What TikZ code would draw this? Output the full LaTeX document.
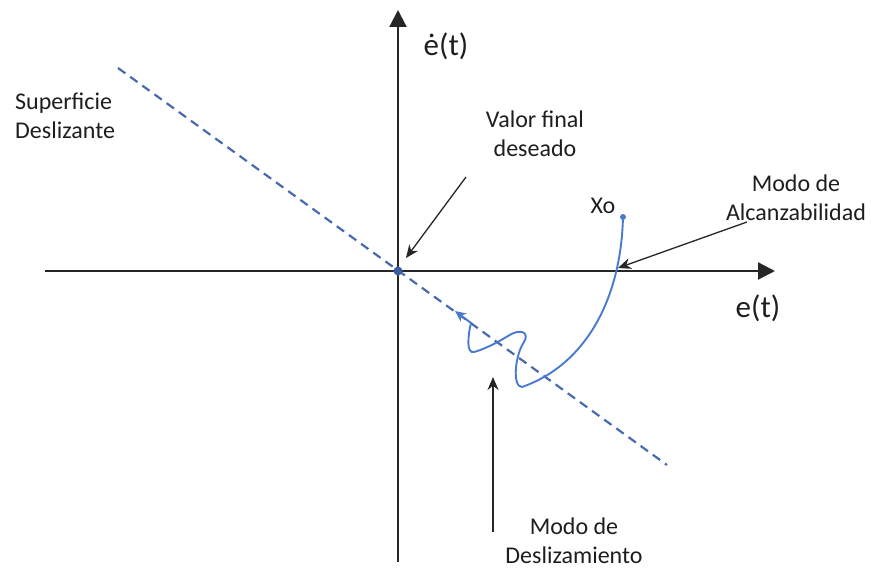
\documentclass[tikz,border=0pt]{standalone}
\usepackage{fontspec}
\setmainfont{Carlito}
\usetikzlibrary{arrows.meta}
\definecolor{trajblue}{RGB}{74,122,208}
\definecolor{surfblue}{RGB}{72,106,176}
\definecolor{dotblue}{RGB}{58,92,160}
\definecolor{txt}{RGB}{30,30,30}
\begin{document}
\begin{tikzpicture}[x=1pt,y=-1pt,
  axis/.style={line width=2.2pt,black!85,-{Triangle[length=17pt,width=17pt]}},
  annot/.style={line width=1.3pt,black!85,-{Stealth[length=13pt,width=11pt]}},
  traj/.style={line width=1.9pt,trajblue},
  surf/.style={line width=2.2pt,surfblue,dash pattern=on 9pt off 6pt},
  lbl/.style={text=txt,font=\fontsize{24}{29}\selectfont,inner sep=0pt,align=center},
  big/.style={text=txt,font=\fontsize{31}{36}\selectfont,inner sep=0pt}]
\useasboundingbox (0,0) rectangle (871,569);
% axes
\coordinate (xl) at (45,271);
\coordinate (xr) at (775,271);
\coordinate (yb) at (398,562);
\coordinate (yt) at (398,10);
\draw[axis] (xl) -- (xr);
\draw[axis] (yb) -- (yt);
% sliding surface
\coordinate (s1) at (118,68);
\coordinate (s2) at (667,465);
\draw[surf] (s1) -- (s2);
% origin
\node[circle,fill=dotblue,inner sep=0pt,minimum size=9pt] (o) at (398,271) {};
% trajectory
\node[circle,fill=trajblue,inner sep=0pt,minimum size=6pt] (xo) at (623,217) {};
\coordinate (cross) at (618,268);
\coordinate (tip) at (455,311);
\draw[traj,-{Stealth[length=11pt,width=10pt]}] (xo.center) .. controls (621,300) and (585,365) .. (522,387)
  .. controls (512,387) and (515,355) .. (524,342)
  .. controls (530,332) and (520,328) .. (508,336)
  .. controls (495,344) and (482,350) .. (474,352)
  .. controls (466,354) and (468,335) .. (471,323) -- (tip);
% labels
\node[big] (et) at (758,308) {e(t)};
\node[big] (edot) at (446,46) {ė(t)};
\node[lbl] (xol) at (603,206) {Xo};
\node[lbl,align=left,anchor=west] (sup) at (15,116) {Superficie\\Deslizante};
\node[lbl] (vf) at (535,134) {Valor final\\deseado};
\node[lbl] (ma) at (796,198) {Modo de\\Alcanzabilidad};
\node[lbl] (md) at (574,541) {Modo de\\Deslizamiento};
% annotation arrows
\coordinate (vfs) at (466,177);
\coordinate (vfe) at (406,258);
\draw[annot] (vfs) -- (vfe);
\coordinate (mas) at (747,222);
\draw[annot] (mas) -- (cross);
\coordinate (mds) at (493,532);
\coordinate (mde) at (493,377);
\draw[annot] (mds) -- (mde);
\end{tikzpicture}
\end{document}
